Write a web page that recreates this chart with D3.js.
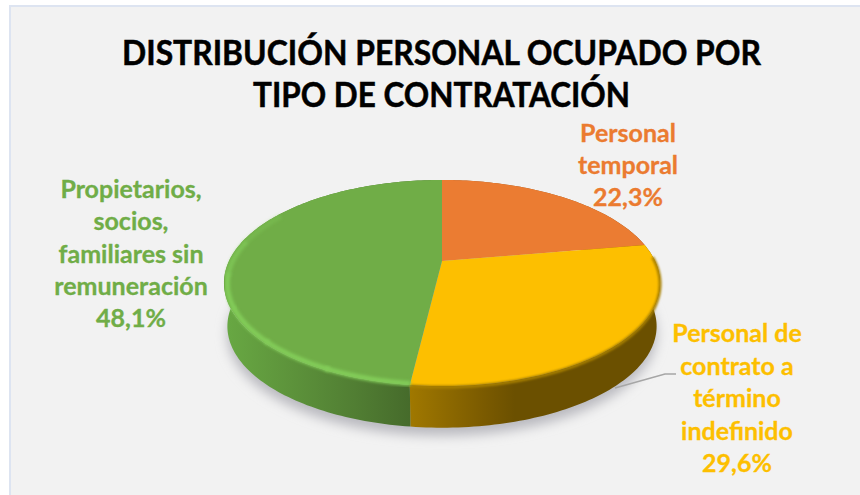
<!DOCTYPE html>
<html lang="es">
<head>
<meta charset="utf-8">
<script src="https://cdn.jsdelivr.net/npm/d3@7/dist/d3.min.js"></script>
<style>
html,body{margin:0;padding:0;background:#fff;overflow:hidden}
svg{display:block}
text{font-family:Lato,"Open Sans",sans-serif;font-weight:700;text-anchor:middle}
</style>
</head>
<body>
<svg id="chart" width="860" height="495"></svg>
<script>
const titleLines = ["DISTRIBUCIÓN PERSONAL OCUPADO POR", "TIPO DE CONTRATACIÓN"];
const titleWidths = [639, 377];
const categories = ["Personal temporal", "Personal de contrato a término indefinido", "Propietarios, socios, familiares sin remuneración"];
const categoryLines = [["Personal", "temporal"], ["Personal de", "contrato a", "término", "indefinido"], ["Propietarios,", "socios,", "familiares sin", "remuneración"]];
const values = [22.3, 29.6, 48.1];
const colors = ["#EB7B30", "#FDBF00", "#70AD47"];

const W = 860, H = 495;
const svg = d3.select("#chart");
const defs = svg.append("defs");
const fmt = d3.formatLocale({decimal: ",", thousands: ".", grouping: [3], currency: ["", ""]}).format(".1f");

// perspective projection of the flat pie disc
const cx = 442, apexY = 261, R = 213, A = 42.6, K = -0.2136, depth = 44, bottomScale = 0.985;
const project = (angle, s = 1, dy = 0) => {
  const x = Math.sin(angle) * s, y = -Math.cos(angle) * s, w = 1 + K * y;
  return [cx + R * x / w, (apexY + A * y) / w + dy];
};
const sample = (a0, a1, s, dy) => {
  const n = Math.max(2, Math.ceil(Math.abs(a1 - a0) / 0.02));
  return d3.range(n + 1).map(i => project(a0 + (a1 - a0) * i / n, s, dy));
};
const line = d3.line();
const pie = d3.pie().sort(null).startAngle(0).endAngle(2 * Math.PI);
const slices = pie(values);

// background
svg.append("rect").attr("x", 10).attr("y", 6).attr("width", W).attr("height", H).attr("fill", "#f2f2f2").attr("stroke", "#dde4f1").attr("stroke-width", 2);

// filters
const blur = (id, sd) => defs.append("filter").attr("id", id).attr("x", "-20%").attr("y", "-20%").attr("width", "140%").attr("height", "140%")
  .append("feGaussianBlur").attr("stdDeviation", sd);
blur("shadowBlur", 6); blur("rimBlur", 1.6); blur("edgeBlur", 0.6); blur("darkBlur", 1.3);

// wall gradients
const wallGrad = (id, x1, x2, stops) => {
  const g = defs.append("linearGradient").attr("id", id).attr("gradientUnits", "userSpaceOnUse")
    .attr("x1", x1).attr("x2", x2).attr("y1", 0).attr("y2", 0);
  stops.forEach(s => g.append("stop").attr("offset", s[0]).attr("stop-color", s[1]));
};
const splitX = project(slices[1].endAngle)[0];
wallGrad("wall0", 600, 660, [[0, "#9c5a22"], [1, "#7a4015"]]);
wallGrad("wall1", splitX, 660, [[0, "#a07800"], [0.3, "#7a5a00"], [0.42, "#6b5000"], [1, "#6b5000"]]);
wallGrad("wall2", 226, splitX, [[0, "#68a843"], [0.35, "#5d933b"], [0.7, "#517e33"], [1, "#466b2b"]]);

// shadow
const outline = sample(0, 2 * Math.PI, bottomScale, depth + 8);
svg.append("path").attr("d", line(outline) + "Z").attr("fill", "#b9b9bf").attr("filter", "url(#shadowBlur)");

// side walls
svg.append("g").selectAll("path").data(slices).join("path")
  .attr("d", d => line(sample(d.startAngle, d.endAngle, 1, 0).concat(sample(d.endAngle, d.startAngle, bottomScale, depth))) + "Z")
  .attr("fill", (d, i) => `url(#wall${i})`);

// top faces
const topPath = d => line([[cx, apexY]].concat(sample(d.startAngle, d.endAngle, 1, 0))) + "Z";
svg.append("g").attr("filter", "url(#edgeBlur)").selectAll("path").data(slices).join("path")
  .attr("d", topPath).attr("fill", (d, i) => colors[i]);

// soft dark transition between the yellow face and its wall
svg.append("path").attr("d", line(sample(slices[1].startAngle + 0.12, slices[1].endAngle, 1, 1)))
  .attr("fill", "none").attr("stroke", "#a88000").attr("stroke-width", 3).attr("filter", "url(#darkBlur)");

// bevel highlight on the green rim
const green = slices[2];
const rimSegments = d3.range(6);
svg.append("g").selectAll("path").data(rimSegments).join("path")
  .attr("d", i => line(sample(green.startAngle + i * 0.33, green.startAngle + (i + 1) * 0.33 + 0.02, 0.985, 1)))
  .attr("fill", "none").attr("stroke", "#82cc58").attr("stroke-width", 5)
  .attr("stroke-opacity", i => i < 4 ? 1 : (i === 4 ? 0.7 : 0.35)).attr("filter", "url(#rimBlur)");

// leader line
const leader = [[615, 388], [665, 374], [676, 374]];
svg.append("path").attr("d", line(leader)).attr("fill", "none").attr("stroke", "#a6a6a6").attr("stroke-width", 1.5);

// title
const titleY = d3.scalePoint().domain(titleLines).range([65, 107]);
svg.append("g").selectAll("text").data(titleLines).join("text")
  .attr("x", 441.5).attr("y", d => titleY(d)).attr("font-size", 35).attr("fill", "#000")
  .attr("stroke", "#000").attr("stroke-width", 0.5)
  .attr("textLength", (d, i) => titleWidths[i]).attr("lengthAdjust", "spacingAndGlyphs").text(d => d);

// labels
const labelPos = [{x: 628, y: 142, step: 32}, {x: 737, y: 342, step: 32.5}, {x: 131, y: 198, step: 32.3}];
slices.forEach((d, i) => {
  const lines = categoryLines[i].concat(fmt(values[i]) + "%");
  svg.append("g").selectAll("text").data(lines).join("text")
    .attr("x", labelPos[i].x).attr("y", (t, j) => labelPos[i].y + j * labelPos[i].step)
    .attr("font-size", 25).attr("fill", colors[i]).attr("stroke", colors[i]).attr("stroke-width", 0.3).text(t => t);
});
</script>
</body>
</html>
